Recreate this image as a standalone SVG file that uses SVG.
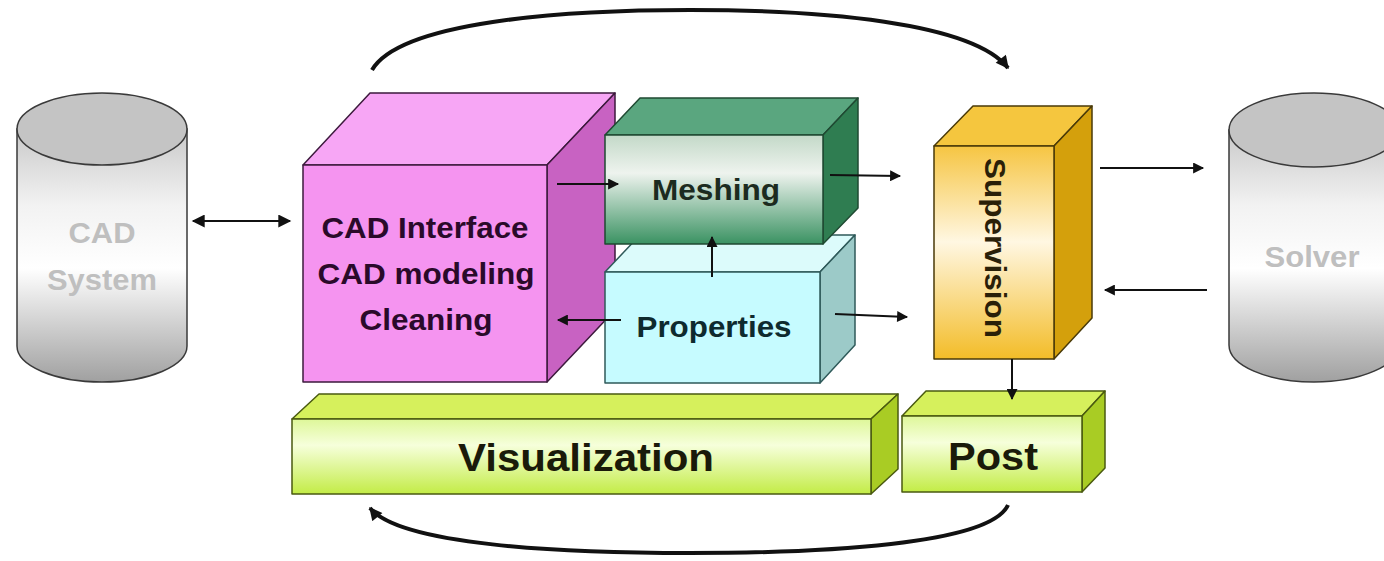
<svg xmlns="http://www.w3.org/2000/svg" width="1384" height="561" viewBox="0 0 1384 561">
  <defs>
    <linearGradient id="gCyl" x1="0" y1="0" x2="0" y2="1">
      <stop offset="0" stop-color="#c9c9c9"/>
      <stop offset="0.3" stop-color="#f2f2f2"/>
      <stop offset="0.55" stop-color="#ffffff"/>
      <stop offset="1" stop-color="#a0a0a0"/>
    </linearGradient>
    <linearGradient id="gMesh" x1="0" y1="0" x2="0" y2="1">
      <stop offset="0" stop-color="#c3d9c8"/>
      <stop offset="0.35" stop-color="#eef3ee"/>
      <stop offset="1" stop-color="#3a9262"/>
    </linearGradient>
    <linearGradient id="gSup" x1="0" y1="0" x2="0" y2="1">
      <stop offset="0" stop-color="#f6c542"/>
      <stop offset="0.45" stop-color="#fff7e2"/>
      <stop offset="1" stop-color="#f3bc28"/>
    </linearGradient>
    <linearGradient id="gLime" x1="0" y1="0" x2="0" y2="1">
      <stop offset="0" stop-color="#def799"/>
      <stop offset="0.35" stop-color="#f6ffdb"/>
      <stop offset="1" stop-color="#c3ec46"/>
    </linearGradient>
    <marker id="ah" viewBox="0 0 10 10" refX="9" refY="5" markerWidth="13" markerHeight="11" markerUnits="userSpaceOnUse" orient="auto-start-reverse">
      <path d="M0,0 L10,5 L0,10 Z" fill="#111"/>
    </marker>
    <marker id="ahBig" viewBox="0 0 10 10" refX="9" refY="5" markerWidth="15" markerHeight="13" markerUnits="userSpaceOnUse" orient="auto-start-reverse">
      <path d="M0,0 L10,5 L0,10 Z" fill="#111"/>
    </marker>
  </defs>
  <style>
    text { font-family: "Liberation Sans", Arial, sans-serif; font-weight: bold; text-anchor: middle; }
    .cyl { fill: url(#gCyl); stroke: #3a3a3a; stroke-width: 1.5; }
    .cylTop { fill: #c4c4c4; stroke: #3a3a3a; stroke-width: 1.5; }
    .cylTxt { fill: #bfbfbf; font-size: 29px; }
    .edge { stroke-width: 1.5; stroke-linejoin: round; }
    .link { stroke: #111; stroke-width: 2; fill: none; }
    .loop { stroke: #111; stroke-width: 4; fill: none; }
  </style>

  <rect width="1384" height="561" fill="#ffffff"/>

  <!-- CAD System database -->
  <g id="cad-system">
    <path class="cyl" d="M17,129 L17,346 A85,36 0 0 0 187,346 L187,129 Z"/>
    <ellipse class="cylTop" cx="102" cy="129" rx="85" ry="36"/>
    <text class="cylTxt" x="102" y="243" textLength="67" lengthAdjust="spacingAndGlyphs">CAD</text>
    <text class="cylTxt" x="102" y="290" textLength="110" lengthAdjust="spacingAndGlyphs">System</text>
  </g>

  <!-- Solver database -->
  <g id="solver">
    <path class="cyl" d="M1229,130 L1229,345 A85,37 0 0 0 1399,345 L1399,130 Z"/>
    <ellipse class="cylTop" cx="1314" cy="130" rx="85" ry="37"/>
    <text class="cylTxt" x="1312" y="267" textLength="95" lengthAdjust="spacingAndGlyphs">Solver</text>
  </g>

  <!-- CAD interface block -->
  <g id="cad-block" class="edge" stroke="#3d1a3d">
    <polygon points="303,165 370,93 615,93 547,165" fill="#f7a6f5"/>
    <polygon points="547,165 615,93 615,310 547,382" fill="#c862c2"/>
    <rect x="303" y="165" width="244" height="217" fill="#f594f0"/>
    <g fill="#2a0a2a" stroke="none" font-size="30">
      <text x="425" y="238" textLength="207" lengthAdjust="spacingAndGlyphs">CAD Interface</text>
      <text x="426" y="284" textLength="217" lengthAdjust="spacingAndGlyphs">CAD modeling</text>
      <text x="426" y="330" textLength="133" lengthAdjust="spacingAndGlyphs">Cleaning</text>
    </g>
  </g>

  <!-- Properties block -->
  <g id="properties" class="edge" stroke="#2f5a5a">
    <polygon points="605,272 640,235 855,235 820,272" fill="#dcfbfb"/>
    <polygon points="820,272 855,235 855,345 820,383" fill="#9ccac8"/>
    <rect x="605" y="272" width="215" height="111" fill="#c6fbff"/>
    <text x="714" y="337" font-size="30" fill="#0e2a2e" stroke="none" textLength="155" lengthAdjust="spacingAndGlyphs">Properties</text>
  </g>

  <!-- Meshing block -->
  <g id="meshing" class="edge" stroke="#1f4a32">
    <polygon points="605,135 640,98 858,98 823,135" fill="#5aa67f"/>
    <polygon points="823,135 858,98 858,208 823,244" fill="#2f7d51"/>
    <rect x="605" y="135" width="218" height="109" fill="url(#gMesh)"/>
    <text x="716" y="200" font-size="30" fill="#1c2b20" stroke="none" textLength="128" lengthAdjust="spacingAndGlyphs">Meshing</text>
  </g>

  <!-- Supervision block -->
  <g id="supervision" class="edge" stroke="#4a3a08">
    <polygon points="934,146 973,106 1092,106 1054,146" fill="#f5c63e"/>
    <polygon points="1054,146 1092,106 1092,318 1054,359" fill="#d4a00c"/>
    <rect x="934" y="146" width="120" height="213" fill="url(#gSup)"/>
    <text transform="translate(985,248) rotate(90)" x="0" y="0" font-size="30" fill="#2a2008" stroke="none" textLength="180" lengthAdjust="spacingAndGlyphs">Supervision</text>
  </g>

  <!-- Visualization bar -->
  <g id="visualization" class="edge" stroke="#4a5a10">
    <polygon points="292,419 319,394 898,394 871,419" fill="#d6f05c"/>
    <polygon points="871,419 898,394 898,469 871,494" fill="#a9cc24"/>
    <rect x="292" y="419" width="579" height="75" fill="url(#gLime)"/>
    <text x="586" y="471" font-size="38" fill="#1a1a0a" stroke="none" textLength="256" lengthAdjust="spacingAndGlyphs">Visualization</text>
  </g>

  <!-- Post block -->
  <g id="post" class="edge" stroke="#4a5a10">
    <polygon points="902,416 926,391 1105,391 1082,416" fill="#d6f05c"/>
    <polygon points="1082,416 1105,391 1105,468 1082,492" fill="#a9cc24"/>
    <rect x="902" y="416" width="180" height="76" fill="url(#gLime)"/>
    <text x="993" y="470" font-size="38" fill="#1a1a0a" stroke="none" textLength="90" lengthAdjust="spacingAndGlyphs">Post</text>
  </g>

  <!-- Connectors -->
  <g id="connectors">
    <line class="link" x1="193" y1="221" x2="290" y2="221" stroke-width="3" marker-start="url(#ahBig)" marker-end="url(#ahBig)"/>
    <line class="link" x1="557" y1="184" x2="618" y2="184" stroke-width="2.5" marker-end="url(#ah)"/>
    <line class="link" x1="621" y1="320" x2="558" y2="320" stroke-width="2.5" marker-end="url(#ah)"/>
    <line class="link" x1="712" y1="277" x2="712" y2="237" marker-end="url(#ah)"/>
    <line class="link" x1="830" y1="175" x2="900" y2="176" marker-end="url(#ah)"/>
    <line class="link" x1="835" y1="314" x2="907" y2="317" marker-end="url(#ah)"/>
    <line class="link" x1="1100" y1="168" x2="1203" y2="168" marker-end="url(#ah)"/>
    <line class="link" x1="1207" y1="290" x2="1105" y2="290" marker-end="url(#ah)"/>
    <line class="link" x1="1012" y1="359" x2="1012" y2="399" marker-end="url(#ah)"/>
    <path class="loop" d="M372,70 C400,22 560,10 690,10 C820,10 972,22 1008,68" marker-end="url(#ahBig)"/>
    <path class="loop" d="M1008,505 C990,545 820,553 690,553 C560,553 400,545 370,508" marker-end="url(#ahBig)"/>
  </g>
</svg>
